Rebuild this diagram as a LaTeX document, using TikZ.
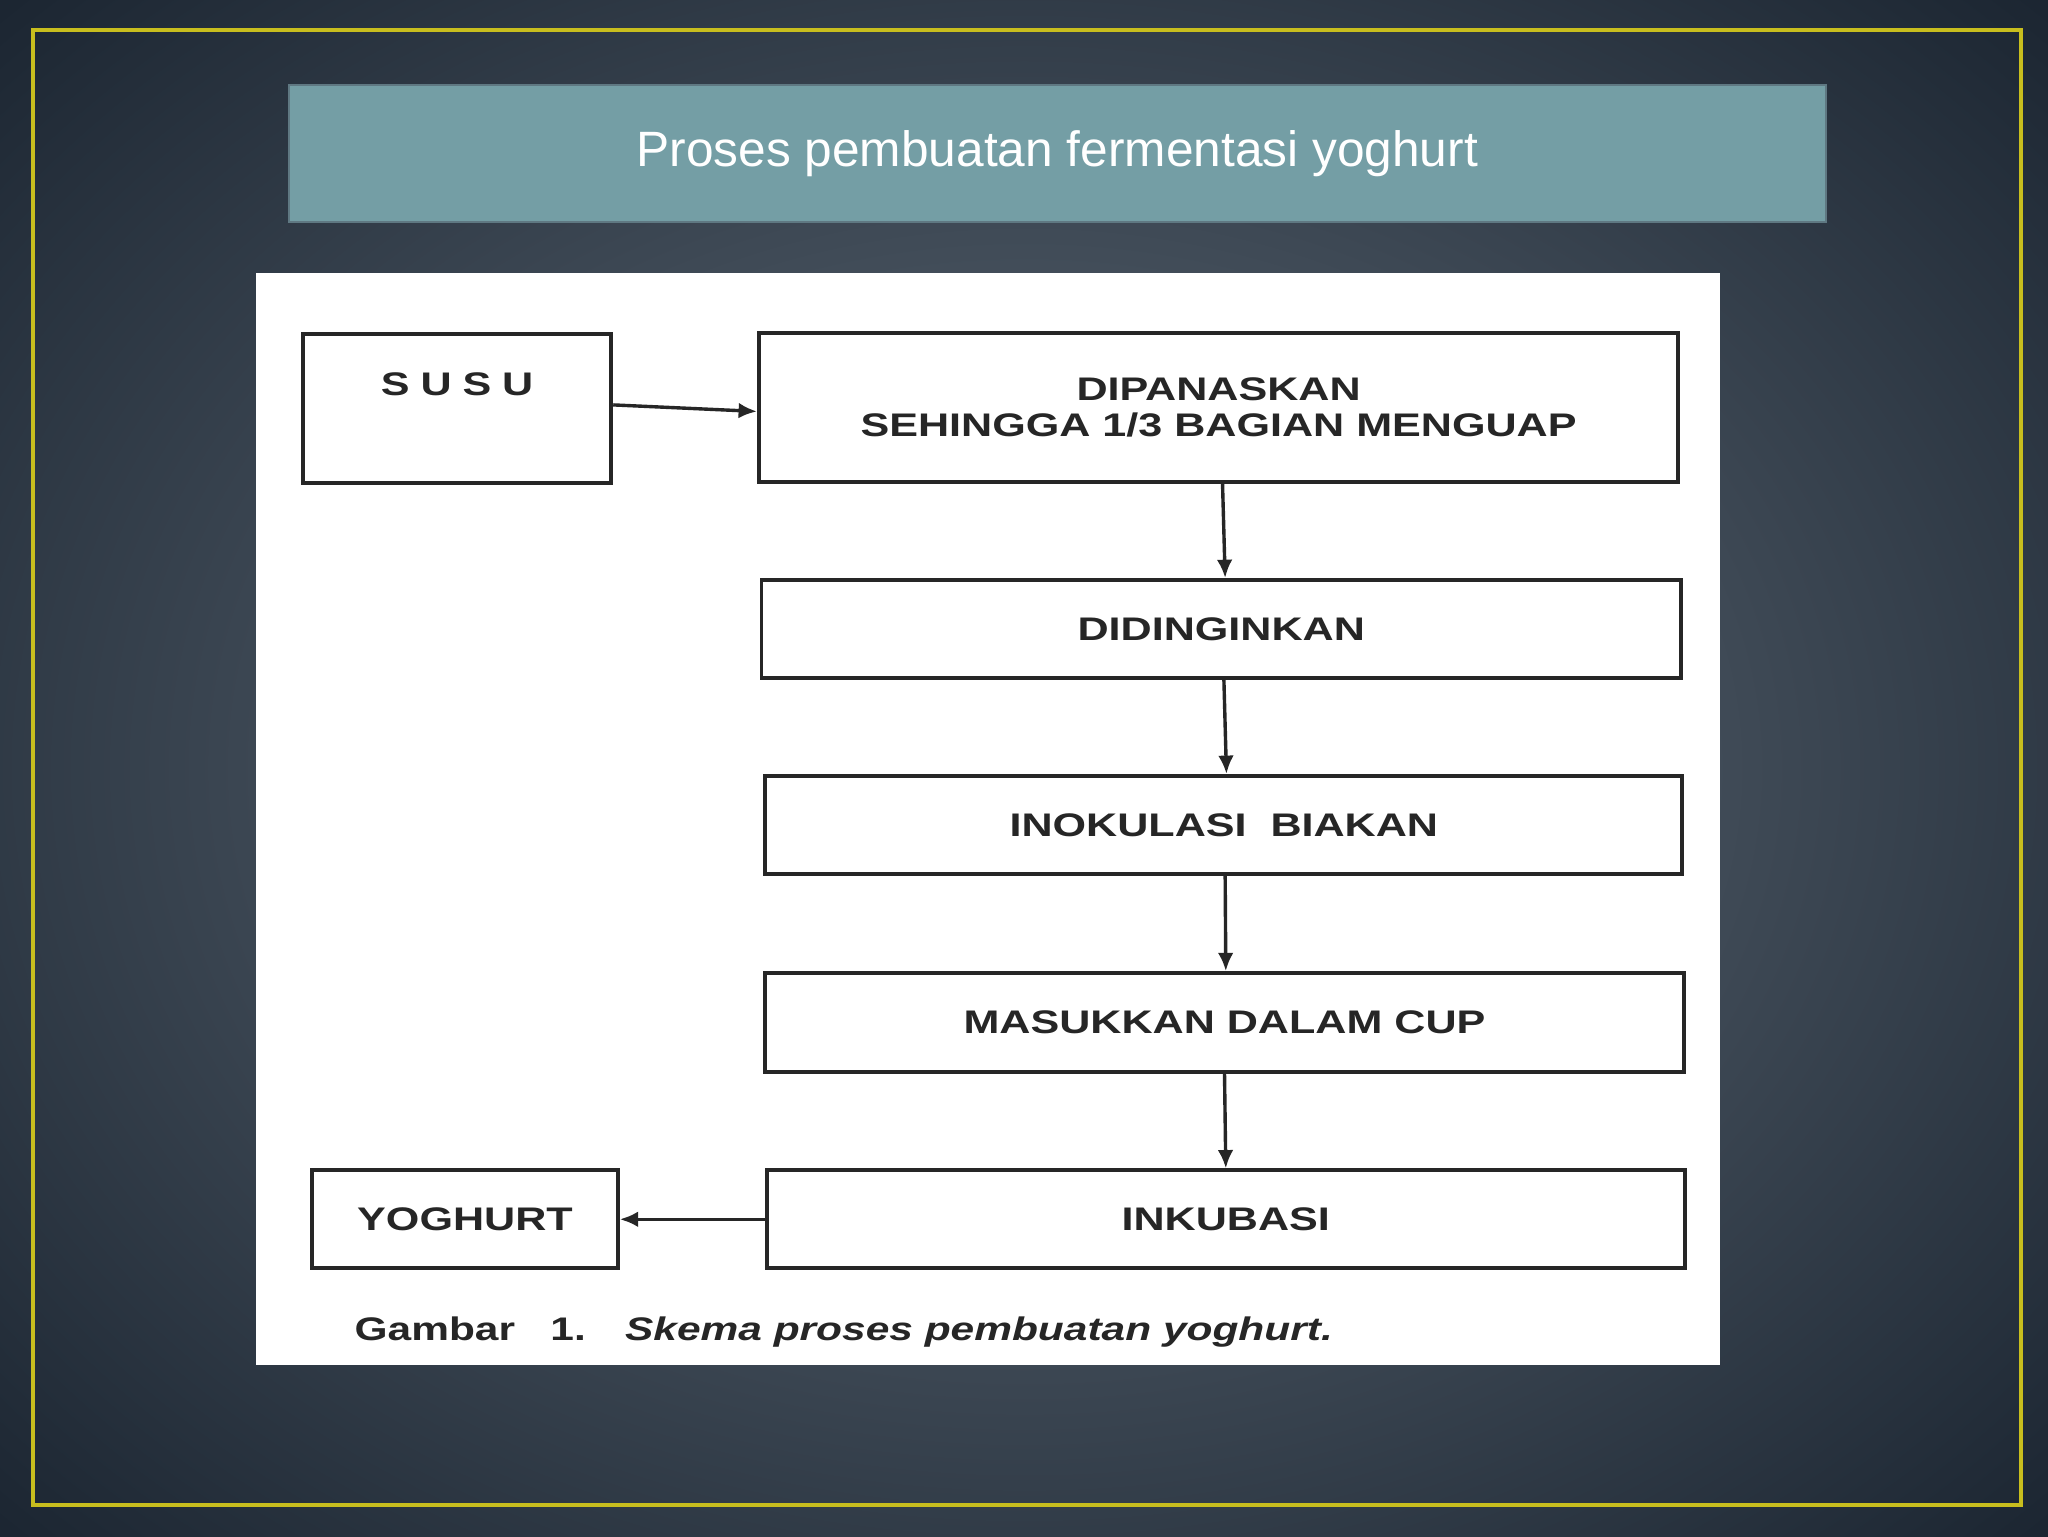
\documentclass[tikz,border=0pt]{standalone}
\usepackage{fontspec}
\setmainfont{Liberation Sans}
\newfontfamily\boxfont[FakeStretch=1.32]{Liberation Sans Bold}
\newfontfamily\capfont[FakeStretch=1.3]{Liberation Sans}
\begin{document}
\begin{tikzpicture}[x=1pt,y=-1pt,
  stepbox/.style={draw=black!85,line width=3pt,fill=white,inner sep=0pt,font=\boxfont\fontsize{25}{28}\selectfont,align=center,text=black!85},
  arr/.style={line width=2.6pt,draw=black!85,-{Latex[length=14pt,width=12pt]}}]
\usetikzlibrary{arrows.meta}
\useasboundingbox (0,0) rectangle (1568,1176);
\shade[inner color={rgb,255:red,98;green,110;blue,122},outer color={rgb,255:red,28;green,38;blue,50}] (-300,-250) rectangle (1868,1426);
\draw[draw={rgb,255:red,200;green,190;blue,30},line width=3pt] (25,23) rectangle (1547,1152);
\node[draw={rgb,255:red,95;green,120;blue,130},line width=1.5pt,fill={rgb,255:red,116;green,158;blue,165},minimum width=1177pt,minimum height=105pt,text=white,font=\fontsize{38}{44}\selectfont] (title) at (809.5,117.5) {Proses pembuatan fermentasi yoghurt};
\fill[white] (196,209) rectangle (1317,1045);
\node[stepbox,minimum width=236pt,minimum height=114pt] (susu) at (350,313) {S\,\,U\,\,S\,\,U\vphantom{Ag}\\[10pt]};
\node[stepbox,minimum width=704pt,minimum height=114pt] (panas) at (933,312) {DIPANASKAN\\SEHINGGA 1/3 BAGIAN MENGUAP};
\node[stepbox,minimum width=704pt,minimum height=75pt] (dingin) at (935,481.5) {DIDINGINKAN};
\node[stepbox,minimum width=702pt,minimum height=75pt] (inok) at (937,631.5) {INOKULASI \ BIAKAN};
\node[stepbox,minimum width=703pt,minimum height=76pt] (masuk) at (937.5,783) {MASUKKAN DALAM CUP};
\node[stepbox,minimum width=703pt,minimum height=75pt] (inku) at (938.5,933.5) {INKUBASI};
\node[stepbox,minimum width=234pt,minimum height=75pt] (yog) at (356,933.5) {YOGHURT};
\draw[arr] (susu.east) ++(0,-3) -- ([yshift=-3pt]panas.west);
\draw[arr] (panas.south) ++(3,0) -- ([xshift=3pt]dingin.north);
\draw[arr] (dingin) ++(2,37.5) -- ([xshift=2pt]inok.north);
\draw[arr] (inok) ++(1,37.5) -- ([xshift=1pt]masuk.north);
\draw[arr] (masuk) ++(0,38) -- ([xshift=0pt]inku.north);
\draw[arr] (inku.west) -- (yog.east);
\node[anchor=west,text=black!85,font=\capfont\fontsize{25}{28}\selectfont] (cap) at (268,1020) {\textbf{Gambar \ \ 1.} \ \ \textbf{\textit{Skema proses pembuatan yoghurt.}}};
\end{tikzpicture}
\end{document}
